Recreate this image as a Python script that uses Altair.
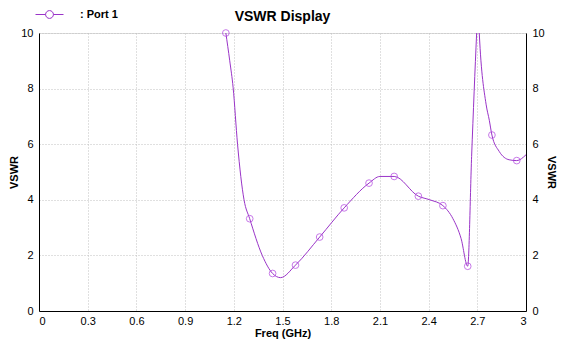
import altair as alt
import pandas as pd

# Line trace
line_freq = [1.151, 1.175, 1.196, 1.223, 1.263, 1.298, 1.376, 1.439, 1.488, 1.58,
             1.729, 1.88, 2.033, 2.10, 2.188, 2.337, 2.407, 2.488, 2.55, 2.60, 2.641,
             2.665, 2.696, 2.704, 2.712, 2.754, 2.774, 2.79, 2.835, 2.896, 2.943, 3.0]
line_vswr = [10.0, 9.0, 8.03, 6.0, 4.0, 3.32, 1.99, 1.35, 1.2, 1.65,
             2.66, 3.71, 4.6, 4.84, 4.84, 4.13, 4.0, 3.79, 3.32, 2.61, 1.61,
             5.56, 10.0, 11.0, 10.0, 7.44, 6.86, 6.33, 5.74, 5.44, 5.41, 5.62]

# Marker points
mark_freq = [1.151, 1.298, 1.439, 1.58, 1.729, 1.88, 2.033, 2.188, 2.337, 2.488, 2.641, 2.79, 2.943]
mark_vswr = [10.0, 3.32, 1.35, 1.65, 2.66, 3.71, 4.6, 4.84, 4.13, 3.79, 1.61, 6.33, 5.41]

x_ticks = [0, 0.3, 0.6, 0.9, 1.2, 1.5, 1.8, 2.1, 2.4, 2.7, 3]
y_ticks = [0, 2, 4, 6, 8, 10]

series = "Port 1"
title_text = ["VSWR Display"]
line_color = "#9a34c8"
marker_color = "#b040e0"

line_df = pd.DataFrame({"freq": line_freq, "vswr": line_vswr, "series": series})
mark_df = pd.DataFrame({"freq": mark_freq, "vswr": mark_vswr, "series": series})
title_df = pd.DataFrame({"t": title_text})

font = "Liberation Sans"
grid_kw = dict(grid=True, gridColor="#c0c0c0", gridDash=[1, 2], gridWidth=1)
txt_kw = dict(labelFontSize=11, titleFontSize=11, titleFontWeight="bold",
              labelColor="#000", titleColor="#000", labelFont=font, titleFont=font)

W, H = 487, 278

x_enc = alt.X("freq:Q", scale=alt.Scale(domain=[0, 3], nice=False, zero=False),
              axis=alt.Axis(values=x_ticks, format="~g", title="Freq (GHz)", tickSize=0,
                            labelPadding=4, titlePadding=1, domainColor="#000",
                            **txt_kw, **grid_kw))

y_scale = alt.Scale(domain=[0, 10], nice=False)

legend_symbol = "M-1,0 L-0.28,0 M0.28,0 L1,0 M-0.28,0 A0.28,0.28 0 1,1 0.28,0 A0.28,0.28 0 1,1 -0.28,0"

line = alt.Chart(line_df).mark_line(interpolate="monotone", strokeWidth=1, clip=True).encode(
    x=x_enc,
    y=alt.Y("vswr:Q", scale=y_scale,
            axis=alt.Axis(values=y_ticks, orient="left", title="VSWR", tickSize=0,
                          labelPadding=6, titlePadding=1, domainColor="#000",
                          **txt_kw, **grid_kw)),
    color=alt.Color("series:N", scale=alt.Scale(range=[line_color]),
                    legend=alt.Legend(title=None, orient="none", legendX=-4, legendY=-33,
                                      symbolType=legend_symbol, symbolSize=784,
                                      symbolStrokeWidth=1, symbolFillColor="transparent",
                                      labelExpr="': ' + datum.label", labelFont=font,
                                      labelFontSize=11, labelFontWeight="bold",
                                      labelColor="#000", labelOffset=16)),
)

markers = alt.Chart(mark_df).mark_point(shape="circle", size=45, filled=False,
                                        color=marker_color, strokeWidth=1).encode(
    x=x_enc,
    y=alt.Y("vswr:Q", scale=y_scale,
            axis=alt.Axis(values=y_ticks, orient="right", title="VSWR", tickSize=0,
                          labelPadding=6, titlePadding=1, domainColor="#000", grid=False,
                          **txt_kw)),
)

title = alt.Chart(title_df).mark_text(font=font, fontSize=14, fontWeight="bold",
                                      color="#000", align="center", baseline="alphabetic").encode(
    text="t:N", x=alt.value(W / 2), y=alt.value(-12))

chart = alt.layer(line, markers, title).resolve_axis(y="independent").properties(
    width=W, height=H,
    autosize=alt.AutoSizeParams(type="none"),
    padding={"left": 31, "top": 25, "right": 32, "bottom": 29},
).configure_view(stroke="#333", strokeWidth=1).configure(background="white")

chart.save("out.html", embed_options={"renderer": "svg", "actions": False})
